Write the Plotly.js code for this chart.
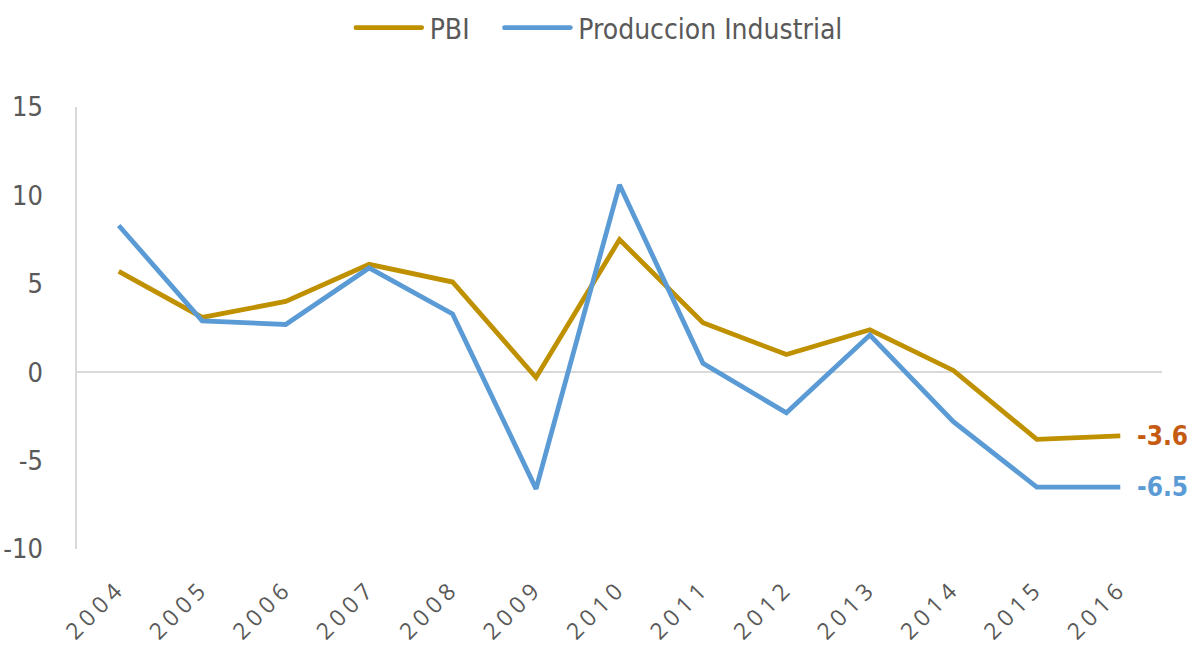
<!DOCTYPE html>
<html>
<head>
<meta charset="utf-8">
<script src="https://cdn.plot.ly/plotly-3.0.1.min.js"></script>
<style>
  html, body { margin: 0; padding: 0; background: #ffffff; }
  #chart { width: 1191px; height: 652px; }
  #chart .xtick text { letter-spacing: 5px; }
</style>
</head>
<body>
<div id="chart"></div>
<script>
const years = ["2004","2005","2006","2007","2008","2009","2010","2011","2012","2013","2014","2015","2016"];
const pbi = [5.7, 3.1, 4.0, 6.1, 5.1, -0.3, 7.5, 2.8, 1.0, 2.4, 0.1, -3.8, -3.6];
const produccionIndustrial = [8.3, 2.9, 2.7, 5.9, 3.3, -6.6, 10.6, 0.5, -2.3, 2.1, -2.8, -6.5, -6.5];
const seriesNames = ["PBI", "Produccion Industrial"];
const yTicks = [-10, -5, 0, 5, 10, 15];

const FONT = '"DejaVu Sans Condensed", "Liberation Sans Narrow", Lato, sans-serif';
const gold = '#BF9000';
const blue = '#5B9BD5';
const grey = '#595959';

const traces = [
  { x: years, y: pbi, name: seriesNames[0], type: 'scatter', mode: 'lines',
    line: { color: gold, width: 4.8 }, hoverinfo: 'x+y', legend: 'legend' },
  { x: years, y: produccionIndustrial, name: seriesNames[1], type: 'scatter', mode: 'lines',
    line: { color: blue, width: 4.8 }, hoverinfo: 'x+y', legend: 'legend2' }
];

const lastIdx = years.length - 1;
const annotations = [
  { x: lastIdx, y: pbi[lastIdx], text: '<b>' + pbi[lastIdx].toFixed(1) + '</b>',
    showarrow: false, xanchor: 'left', xshift: 15,
    font: { family: FONT, size: 26, color: '#C55A11' } },
  { x: lastIdx, y: produccionIndustrial[lastIdx], text: '<b>' + produccionIndustrial[lastIdx].toFixed(1) + '</b>',
    showarrow: false, xanchor: 'left', xshift: 15,
    font: { family: FONT, size: 26, color: blue } }
];

const legendBase = {
  orientation: 'h', xref: 'paper', xanchor: 'left',
  y: 1.179, yanchor: 'middle',
  font: { family: FONT, size: 28, color: grey },
  itemwidth: 66, bgcolor: 'rgba(0,0,0,0)'
};

const layout = {
  width: 1191, height: 652,
  paper_bgcolor: '#ffffff', plot_bgcolor: '#ffffff',
  margin: { l: 77, r: 29, t: 107, b: 103, autoexpand: false },
  font: { family: FONT, color: grey },
  showlegend: true,
  legend: Object.assign({}, legendBase, { x: 0.255 }),
  legend2: Object.assign({}, legendBase, { x: 0.392 }),
  xaxis: {
    type: 'category', range: [-0.5, 12.5],
    showgrid: false, zeroline: false, showline: false,
    ticks: '', tickangle: -45,
    tickfont: { family: '"Open Sans", Lato, sans-serif', size: 23, color: grey },
    ticklabelstandoff: 20,
    fixedrange: true
  },
  yaxis: {
    range: [-10, 15], tickvals: yTicks, ticktext: yTicks.map(String),
    showgrid: false, zeroline: true, zerolinecolor: '#D9D9D9', zerolinewidth: 1.5,
    showline: true, linecolor: '#D9D9D9', linewidth: 1.5,
    ticks: '', ticklabelstandoff: 27,
    tickfont: { family: FONT, size: 27, color: grey },
    fixedrange: true
  },
  annotations: annotations
};

Plotly.newPlot('chart', traces, layout, { displayModeBar: false }).then(function (gd) {
  // lengthen the legend line samples to match the reference
  gd.querySelectorAll('.legendlines path').forEach(function (p) {
    p.setAttribute('d', 'M2,0h66');
    p.style.strokeLinecap = 'round';
  });
});
</script>
</body>
</html>
